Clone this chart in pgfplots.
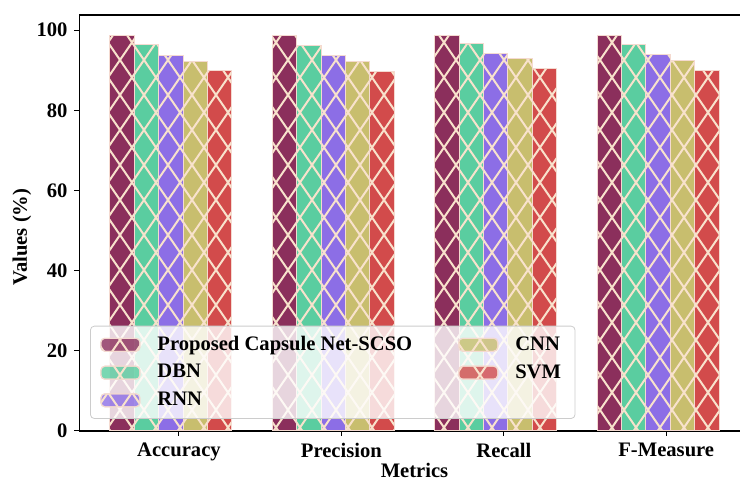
\documentclass[border=0pt]{standalone}
\usepackage{pgfplots}
\pgfplotsset{compat=1.18}
\usepackage{fontspec}
\setmainfont{Liberation Serif}
\usetikzlibrary{patterns}
\definecolor{cA}{HTML}{8B2F5C}
\definecolor{cB}{HTML}{5ACDA0}
\definecolor{cC}{HTML}{8C6EE6}
\definecolor{cD}{HTML}{C8BE6E}
\definecolor{cE}{HTML}{D24B4B}
\definecolor{hatchc}{HTML}{F8E2CC}
\definecolor{edgec}{HTML}{F4DAD0}
\pgfdeclarepatternformonly{bigx}{\pgfqpoint{-0.5pt}{-0.5pt}}{\pgfqpoint{12.5pt}{18pt}}{\pgfqpoint{12pt}{17.5pt}}{%
  \pgfsetlinewidth{1pt}%
  \pgfpathmoveto{\pgfqpoint{0pt}{0pt}}\pgfpathlineto{\pgfqpoint{12pt}{17.5pt}}%
  \pgfpathmoveto{\pgfqpoint{0pt}{17.5pt}}\pgfpathlineto{\pgfqpoint{12pt}{0pt}}%
  \pgfusepath{stroke}}
\newcommand{\lbl}{\fontsize{10.3}{12}\selectfont\bfseries}
\begin{document}
\begin{tikzpicture}
\useasboundingbox (-39.75pt,-24.5pt) rectangle (330.25pt,215.5pt);
\begin{axis}[
  scale only axis, width=335pt, height=208pt,
  xmin=-0.6125, xmax=3.5125, ymin=0, ymax=103.8,
  ybar, bar width=0.15, bar shift=0pt,
  xtick={0,1,2,3}, xticklabels={Accuracy,Precision,Recall,F-Measure},
  ytick={0,20,40,60,80,100},
  xtick pos=bottom, ytick pos=left,
  tick align=outside, major tick length=2.5pt,
  tick style={black, line width=0.5pt},
  axis line style={black, line width=0.6pt},
  ticklabel style={font=\lbl},
  /pgf/number format/assume math mode=true,
  xlabel={Metrics}, ylabel={Values (\%)},
  label style={font=\lbl},
  xlabel style={at={(axis description cs:0.5,0)}, anchor=center, yshift=-19.5pt},
  ylabel style={at={(axis description cs:-0.0858,0.466)}, anchor=center},
  every axis plot/.append style={draw=edgec, line width=0.5pt, postaction={pattern=bigx, pattern color=hatchc}},
  legend columns=3, transpose legend,
  legend cell align=left,
  legend image code/.code={\draw[#1] (0pt,-3.25pt) rectangle (19.5pt,3.25pt);},
  legend style={at={(0.0157,0.029)}, anchor=south west, fill=white, fill opacity=0.8, text opacity=1,
    draw=black!20, rounded corners=2pt, font=\lbl, row sep=1.5pt, inner xsep=5pt, inner ysep=3pt,
    /tikz/every odd column/.style={column sep=6.5pt},
    /tikz/every even column/.style={column sep=21pt}},
]
\addplot[fill=cA] coordinates {(-0.35,98.6) (0.65,98.6) (1.65,98.8) (2.65,98.6)};
\addlegendentry{Proposed Capsule Net-SCSO}
\addplot[fill=cB] coordinates {(-0.20,96.4) (0.80,96.2) (1.80,96.7) (2.80,96.4)};
\addlegendentry{DBN}
\addplot[fill=cC] coordinates {(-0.05,93.8) (0.95,93.8) (1.95,94.2) (2.95,94.0)};
\addlegendentry{RNN}
\addplot[fill=cD] coordinates {(0.10,92.3) (1.10,92.1) (2.10,93.0) (3.10,92.4)};
\addlegendentry{CNN}
\addplot[fill=cE] coordinates {(0.25,90.0) (1.25,89.7) (2.25,90.4) (3.25,90.0)};
\addlegendentry{SVM}
\end{axis}
\end{tikzpicture}
\end{document}
